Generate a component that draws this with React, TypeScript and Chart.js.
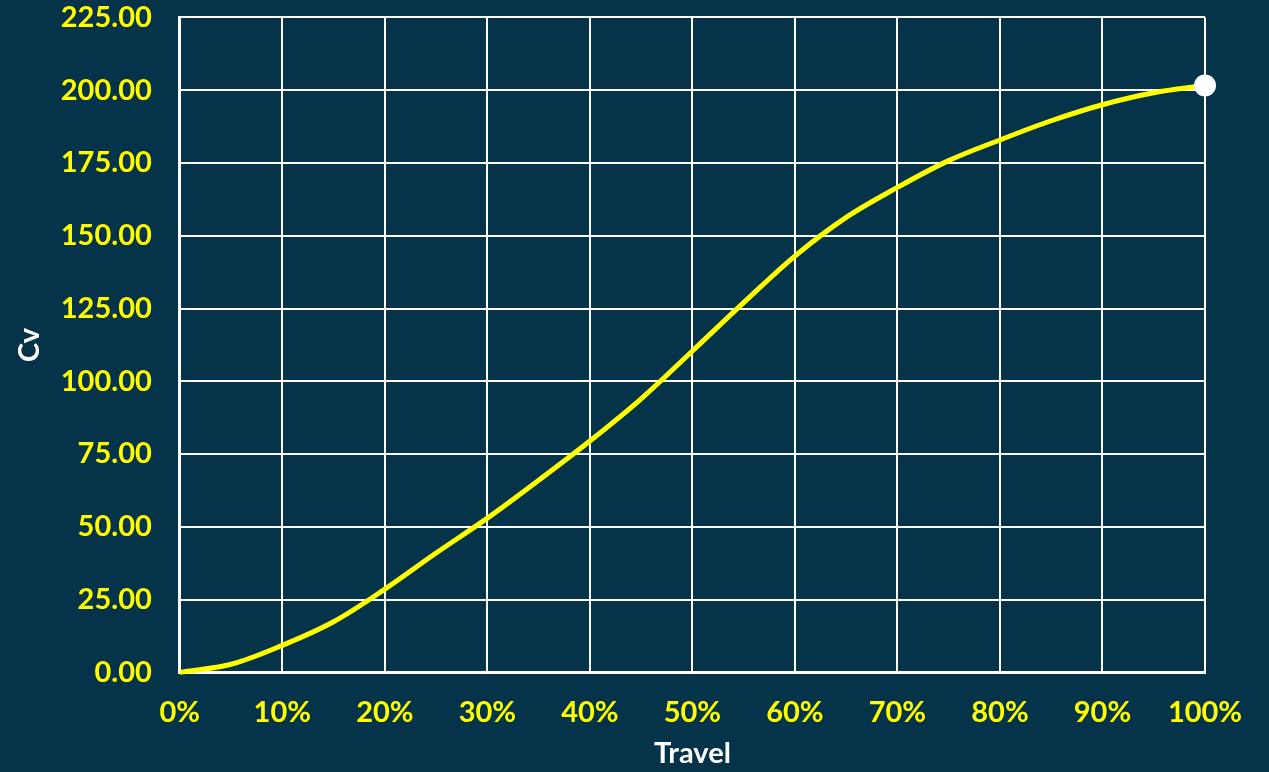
import React, { useEffect, useRef } from "react";
import { Chart, registerables } from "chart.js";

Chart.register(...registerables);

const travel = [0, 5, 10, 15, 20, 25, 30, 35, 40, 45, 50, 55, 60, 65, 70, 75, 80, 85, 90, 95, 100];
const cv = [0, 2.8, 9.3, 17.4, 28.6, 41, 53, 66, 79.5, 94, 110.4, 127, 143, 156.3, 166.6, 175.8, 182.9, 189.5, 195, 199.1, 201.6];
const xTicksMax = 100;
const yTicksMax = 225;

const BG = "#04334A";
const FONT = "Lato, 'DejaVu Sans', sans-serif";

export default function App() {
  const ref = useRef<HTMLCanvasElement | null>(null);

  useEffect(() => {
    if (!ref.current) return;
    const points = travel.map((t, i) => ({ x: t, y: cv[i] }));
    const radii = travel.map((_, i) => (i === travel.length - 1 ? 11 : 0));
    const chart = new Chart(ref.current, {
      type: "line",
      data: {
        datasets: [
          {
            label: "Cv",
            data: points,
            borderColor: "#FFFF00",
            borderWidth: 5,
            pointRadius: radii,
            pointHoverRadius: radii,
            pointBackgroundColor: "#FFFFFF",
            pointBorderColor: "#FFFFFF",
            pointBorderWidth: 0,
            tension: 0.35,
            fill: false,
            clip: false,
          },
        ],
      },
      options: {
        animation: false,
        responsive: true,
        maintainAspectRatio: false,
        layout: { padding: { left: 12, right: 64, top: 0, bottom: 1 } },
        plugins: { legend: { display: false }, tooltip: { enabled: false } },
        scales: {
          x: {
            type: "linear",
            min: 0,
            max: xTicksMax,
            grid: { color: "#FFFFFF", lineWidth: 2, drawTicks: false },
            border: { color: "#FFFFFF", width: 3 },
            ticks: {
              stepSize: 10,
              color: "#FFFF00",
              padding: 23,
              font: { family: FONT, size: 29, weight: "bold" },
              callback: (v: any) => `${v}%`,
            },
            title: {
              display: true,
              text: "Travel",
              color: "#FFFFFF",
              padding: { top: -17, bottom: 0 },
              font: { family: FONT, size: 29, weight: "bold" },
            },
          },
          y: {
            min: 0,
            max: yTicksMax,
            grid: { color: "#FFFFFF", lineWidth: 2, drawTicks: false },
            border: { color: "#FFFFFF", width: 3 },
            ticks: {
              stepSize: 25,
              color: "#FFFF00",
              padding: 28,
              font: { family: FONT, size: 29, weight: "bold" },
              callback: (v: any) => Number(v).toFixed(2),
            },
            title: {
              display: true,
              text: "Cv",
              color: "#FFFFFF",
              padding: { top: 0, bottom: -14 },
              font: { family: FONT, size: 29, weight: "bold" },
            },
          },
        },
      },
    });
    return () => chart.destroy();
  }, []);

  return (
    <div
      style={{
        position: "fixed",
        left: 0,
        top: 0,
        width: 1269,
        height: 772,
        background: BG,
        overflow: "hidden",
      }}
    >
      <div
        style={{
          position: "absolute",
          left: 0,
          top: -28,
          width: 1269,
          height: 800,
        }}
      >
        <canvas ref={ref} />
      </div>
    </div>
  );
}
